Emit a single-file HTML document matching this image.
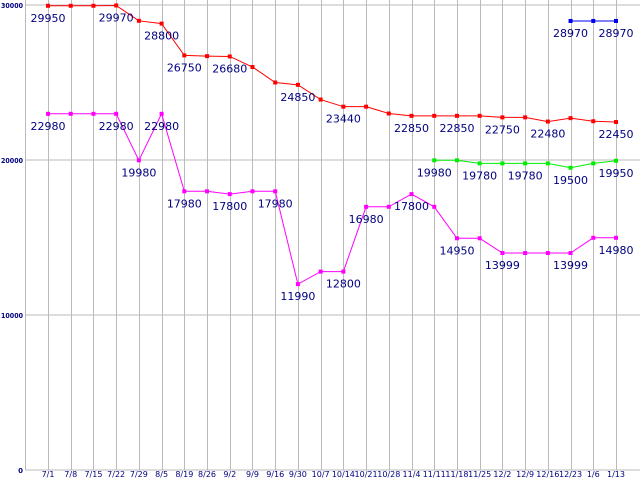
<!DOCTYPE html>
<html><head><meta charset="utf-8"><style>
body{margin:0;background:#fff}
svg{display:block}
text{font-family:"DejaVu Sans","Liberation Sans",sans-serif}
</style></head><body>
<svg id="chart" width="640" height="480" viewBox="0 0 640 480" xmlns="http://www.w3.org/2000/svg">
<g id="grid"></g>
<g id="series"></g>
<g id="labels"></g>
<g id="axes"></g>
</svg>
<script>
const categories=["7/1","7/8","7/15","7/22","7/29","8/5","8/19","8/26","9/2","9/9","9/16","9/30","10/7","10/14","10/21","10/28","11/4","11/11","11/18","11/25","12/2","12/9","12/16","12/23","1/6","1/13"];
const redValues=[29950,29950,29950,29970,28980,28800,26750,26700,26680,26000,25000,24850,23900,23440,23440,23000,22850,22850,22850,22850,22750,22750,22480,22700,22500,22450];
const redLabels=[0,3,5,6,8,11,13,16,18,20,22,25];
const magentaValues=[22980,22980,22980,22980,19980,22980,17980,17980,17800,17980,17980,11990,12800,12800,16980,16980,17800,16980,14950,14950,13999,13999,13999,13999,14980,14980];
const magentaLabels=[0,3,4,5,6,8,10,11,13,14,16,18,20,23,25];
const greenValues=[null,null,null,null,null,null,null,null,null,null,null,null,null,null,null,null,null,19980,19980,19780,19780,19780,19780,19500,19780,19950];
const greenLabels=[17,19,21,23,25];
const blueValues=[null,null,null,null,null,null,null,null,null,null,null,null,null,null,null,null,null,null,null,null,null,null,null,28970,28970,28970];
const blueLabels=[23,25];
const yTicks=[0,10000,20000,30000];
const yTickLabels=["0","10000","20000","30000"];

const NS="http://www.w3.org/2000/svg";
function xPos(i){return 48+i*22.72;}
function yPos(v){return 470-v*0.0155;}
function mk(tag,attrs,parent){const e=document.createElementNS(NS,tag);for(const k in attrs)e.setAttribute(k,attrs[k]);parent.appendChild(e);return e;}
const grid=document.getElementById('grid'),series=document.getElementById('series'),labels=document.getElementById('labels'),axes=document.getElementById('axes');

yTicks.forEach((t,i)=>{
  const l=mk('line',{x1:25,x2:640,y1:yPos(t),y2:yPos(t),stroke:'#bbb','stroke-width':1},grid);
  
  
  const lab=yTickLabels[i];
  const attrs={x:23,y:yPos(t)+3,'text-anchor':'end','font-size':7,fill:'#000080','font-weight':'bold'};
  if(lab.length>1){attrs.textLength=4.4*lab.length;attrs.lengthAdjust='spacingAndGlyphs';}
  const tx=mk('text',attrs,axes);
  tx.textContent=lab;
  
  
});
const ax=mk('line',{x1:25.5,x2:25.5,y1:0,y2:470,stroke:'#bbb'},grid);


categories.forEach((c,i)=>{
  const l=mk('line',{x1:Math.round(xPos(i))+0.5,x2:Math.round(xPos(i))+0.5,y1:0,y2:470,stroke:'#bbb'},grid);
  
  
  const tx=mk('text',{x:xPos(i),y:477,'text-anchor':'middle','font-size':8,fill:'#000080'},axes);
  tx.textContent=c;
  
  
});

function drawSeries(vals,color,name,labelIdx){
  let pts=[];
  vals.forEach((v,i)=>{if(v!==null)pts.push([xPos(i),yPos(v)]);});
  const pl=mk('polyline',{points:pts.map(p=>p.join(',')).join(' '),fill:'none',stroke:color,'stroke-width':1},series);
  
  
  vals.forEach((v,i)=>{
    if(v===null)return;
    const r=mk('rect',{x:xPos(i)-2,y:yPos(v)-2,width:4,height:4,fill:color},series);
    
    
  });
  labelIdx.forEach(i=>{
    const tx=mk('text',{x:xPos(i),y:yPos(vals[i])+16,'text-anchor':'middle','font-size':11,fill:'#000080'},labels);
    tx.textContent=vals[i];
    
    
  });
}
drawSeries(redValues,'#ff0000','red-series',redLabels);
drawSeries(magentaValues,'#ff00ff','magenta-series',magentaLabels);
drawSeries(greenValues,'#00ee00','green-series',greenLabels);
drawSeries(blueValues,'#0000ee','blue-series',blueLabels);
</script>
</body></html>
